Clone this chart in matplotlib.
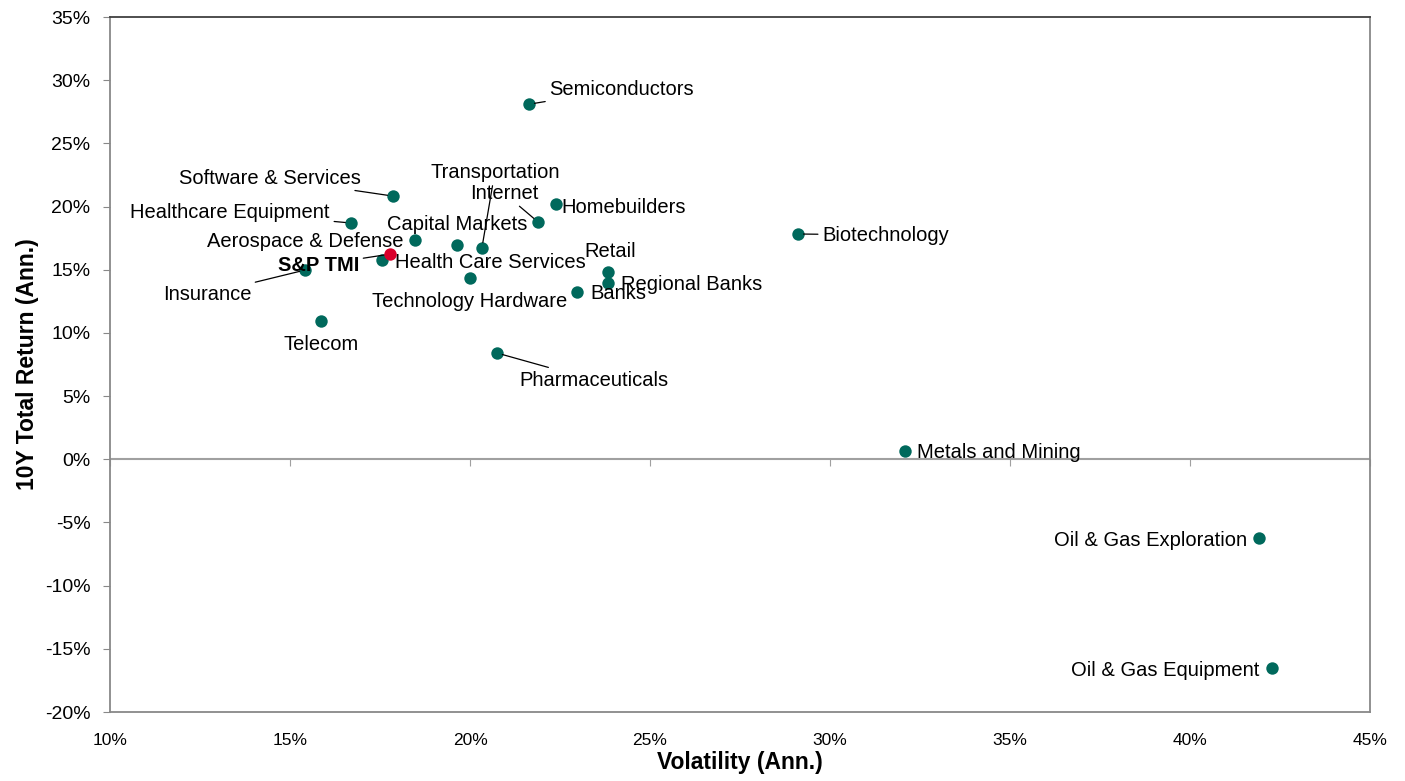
import matplotlib.pyplot as plt
from matplotlib.ticker import FuncFormatter

plt.rcParams['font.family'] = ['Liberation Sans', 'DejaVu Sans']

# sector data: volatility (x, %) and 10Y total return (y, %)
names = ["Semiconductors", "Software & Services", "Healthcare Equipment",
         "Aerospace & Defense", "Capital Markets", "Transportation", "Internet",
         "Homebuilders", "Health Care Services", "Insurance",
         "Technology Hardware", "Telecom", "Pharmaceuticals", "Retail",
         "Regional Banks", "Banks", "Biotechnology", "Metals and Mining",
         "Oil & Gas Exploration", "Oil & Gas Equipment"]
vol = [21.64, 17.86, 16.69, 18.47, 19.64, 20.33, 21.89, 22.39, 17.56, 15.42,
       20.0, 15.86, 20.75, 23.83, 23.83, 22.97, 29.11, 32.08, 41.92, 42.28]
ret = [28.1, 20.83, 18.70, 17.35, 16.96, 16.72, 18.78, 20.2, 15.77, 14.98,
       14.34, 10.94, 8.41, 14.82, 13.95, 13.24, 17.83, 0.65, -6.23, -16.52]

# label anchor points, alignment and whether a leader line is drawn
lab_x = [22.19, 16.97, 16.11, 18.14, 19.64, 20.69, 21.89, 22.53, 17.92, 13.92,
         20.0, 15.86, 21.36, 23.17, 24.19, 23.33, 29.78, 32.42, 41.58, 41.94]
lab_y = [29.30, 22.26, 19.57, 17.27, 18.62, 22.73, 21.07, 19.96, 15.61, 13.08,
         12.45, 9.12, 6.27, 16.48, 13.87, 13.16, 17.75, 0.57, -6.39, -16.68]
lab_ha = ["left", "right", "right", "right", "center", "center", "right", "left",
          "left", "right", "center", "center", "left", "left", "left", "left",
          "left", "left", "right", "right"]
leader = [True, True, True, False, False, True, True, False, False, True,
          False, False, True, False, False, False, True, False, False, False]

bench_name = "S&P TMI"
bench_vol = 17.78
bench_ret = 16.24
bench_lab = (16.92, 15.37)

teal = "#00695C"
red = "#D9002B"

fig = plt.figure(figsize=(14.05, 7.81), dpi=100)
ax = fig.add_axes([0.0783, 0.0883, 0.8968, 0.8899])

ax.scatter(vol, ret, s=80, color=teal, zorder=3, linewidths=0)
ax.scatter([bench_vol], [bench_ret], s=80, color=red, zorder=4, linewidths=0)

for i in range(len(names)):
    if leader[i]:
        ax.annotate(names[i], xy=(vol[i], ret[i]), xytext=(lab_x[i], lab_y[i]),
                    ha=lab_ha[i], va="center", fontsize=14.5,
                    arrowprops=dict(arrowstyle="-", color="black", lw=0.9,
                                    shrinkA=1, shrinkB=4))
    else:
        ax.text(lab_x[i], lab_y[i], names[i], ha=lab_ha[i], va="center",
                fontsize=14.5)

ax.annotate(bench_name, xy=(bench_vol, bench_ret), xytext=bench_lab,
            ha="right", va="center", fontsize=14.5, fontweight="bold",
            arrowprops=dict(arrowstyle="-", color="black", lw=0.9,
                            shrinkA=1, shrinkB=4))

ax.set_xlim(10, 45)
ax.set_ylim(-20, 35)
ax.set_xticks(range(10, 46, 5))
ax.set_yticks(range(-20, 36, 5))
pct = FuncFormatter(lambda v, p: "%d%%" % v)
ax.xaxis.set_major_formatter(pct)
ax.yaxis.set_major_formatter(pct)
ax.tick_params(axis="y", labelsize=14, length=5, color="#888888", pad=9)
ax.tick_params(axis="x", labelsize=12.5, length=0, pad=15)

# zero line with its own tick marks
ax.axhline(0, color="#A0A0A0", lw=1.5, zorder=1)
sec = ax.secondary_xaxis(20 / 55)
sec.set_xticks(range(10, 46, 5))
sec.tick_params(axis="x", direction="out", length=5, color="#A0A0A0",
                labelbottom=False, labeltop=False, bottom=True, top=False)
sec.spines["bottom"].set_visible(False)
sec.spines["top"].set_visible(False)

for side in ["left", "bottom", "right"]:
    ax.spines[side].set_color("#888888")
    ax.spines[side].set_linewidth(1.3)
ax.spines["top"].set_color("#404040")
ax.spines["top"].set_linewidth(1.3)

ax.set_xlabel("Volatility (Ann.)", fontsize=16.5, fontweight="bold", labelpad=2)
ax.set_ylabel("10Y Total Return (Ann.)", fontsize=16.5, fontweight="bold",
              labelpad=4)

fig.savefig("out.png", dpi=100)
